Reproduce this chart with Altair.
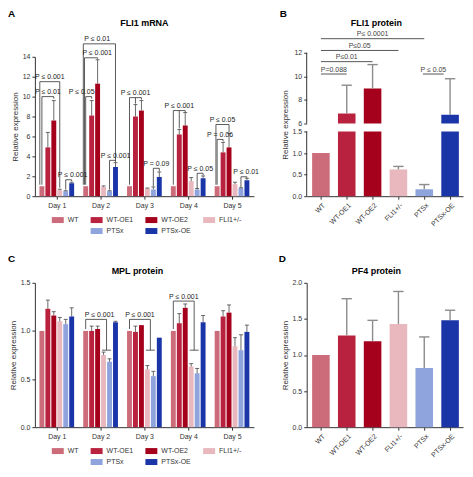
import json
import altair as alt
import pandas as pd

GROUPS = ["WT", "WT-OE1", "WT-OE2", "FLI1+/-", "PTSx", "PTSx-OE"]
COLORS = ["#cc6b7a", "#b8223e", "#a5001c", "#e8b8be", "#8fa3dc", "#1a35a8"]
DAYS = [1, 2, 3, 4, 5]

# Panel A: FLI1 mRNA, rows = groups, columns = days 1-5
MRNA_MEAN = [
    [1.0, 1.0, 1.0, 1.0, 1.0],
    [4.9, 8.1, 8.0, 6.2, 4.4],
    [7.6, 11.3, 8.6, 7.1, 4.9],
    [0.6, 0.93, 0.77, 1.5, 1.2],
    [0.5, 0.5, 0.67, 0.67, 0.8],
    [1.3, 2.93, 1.93, 1.8, 1.6],
]
MRNA_SD = [
    [0, 0, 0, 0, 0],
    [1.5, 1.5, 1.2, 0.5, 1.0],
    [2.0, 2.4, 1.0, 1.3, 1.4],
    [0.1, 0.1, 0.05, 0.37, 0.2],
    [0.05, 0.05, 0.26, 0.1, 0.05],
    [0.1, 0.44, 0.5, 0.23, 0.2],
]
# Panel C: MPL protein
MPL_MEAN = [
    [1.0, 1.0, 1.0, 1.0, 1.0],
    [1.23, 1.00, 0.99, 1.08, 1.15],
    [1.16, 1.02, 1.06, 1.24, 1.19],
    [1.10, 0.75, 0.60, 0.63, 0.84],
    [1.07, 0.68, 0.53, 0.56, 0.80],
    [1.15, 1.09, 0.93, 1.09, 0.99],
]
MPL_SD = [
    [0, 0, 0, 0, 0],
    [0.09, 0.05, 0.06, 0.10, 0.06],
    [0.04, 0.03, 0.0, 0.04, 0.08],
    [0.04, 0.03, 0.04, 0.03, 0.09],
    [0.05, 0.03, 0.05, 0.05, 0.16],
    [0.09, 0.01, 0.0, 0.07, 0.07],
]
# Panel B: FLI1 protein ; Panel D: PF4 protein
FLI1_PROT_MEAN = [1.0, 6.85, 8.97, 0.62, 0.16, 6.75]
FLI1_PROT_SD = [0, 2.4, 2.03, 0.07, 0.11, 3.05]
PF4_MEAN = [1.0, 1.27, 1.19, 1.43, 0.82, 1.48]
PF4_SD = [0, 0.51, 0.29, 0.45, 0.43, 0.14]

# Significance brackets: day, left group, right group, top, left foot, right foot, label, label shift
A_BRACKETS = [
    (1, 0, 2, 10.0, 1.15, 9.8, "P ≤ 0.01", 0),
    (1, -0.35, 3, 11.5, 1.15, 0.85, "P ≤ 0.001", 0),
    (1, 4, 5, 1.65, 0.65, 1.5, "P ≤ 0.001", 0.09),
    (2, 0, 1, 10.0, 1.15, 9.8, "P ≤ 0.05", -0.16),
    (2, -0.2, 2, 13.9, 1.15, 13.8, "P ≤ 0.001", 0.14),
    (2, -0.4, 5, 15.3, 1.15, 3.5, "P ≤ 0.01", -0.05),
    (2, 4, 5, 3.6, 0.65, 3.45, "P ≤ 0.001", 0.07),
    (3, 0, 2, 9.9, 1.15, 9.7, "P ≤ 0.001", 0),
    (3, 4, 5, 2.8, 1.0, 2.5, "P = 0.09", 0),
    (4, 0, 2, 8.6, 1.15, 8.45, "P ≤ 0.001", 0),
    (4, 4, 5, 2.3, 0.8, 2.1, "P ≤ 0.05", 0),
    (5, 0, 1, 5.7, 1.15, 5.5, "P = 0.06", 0),
    (5, -0.2, 2, 7.2, 1.15, 6.4, "P ≤ 0.05", 0),
    (5, 4, 5, 1.95, 0.9, 1.85, "P ≤ 0.01", 0.05),
]
A_EXTRA_LEGS = [(3, 1, 9.9, 9.3), (4, 1, 8.6, 6.8)]
C_BRACKETS = [
    (2, 0, 3.5, 1.12, 1.02, 0.80, "P ≤ 0.001", 0.08),
    (3, 0, 3.5, 1.12, 1.02, 0.80, "P ≤ 0.001", 0),
    (4, 0, 3.5, 1.31, 1.02, 0.80, "P ≤ 0.001", 0),
]
C_TBARS = [(2, 2.75, 4.25, 0.80), (3, 2.75, 4.25, 0.80), (4, 2.75, 4.25, 0.80)]
B_LINES = [
    (0, 1, 10.2, "P=0.088"),
    (0, 2, 11.25, "P≤0.01"),
    (0, 3, 12.2, "P≤0.05"),
    (0, 4, 13.2, "P≤ 0.0001"),
    (3.95, 4.75, 10.2, "P ≤ 0.05"),
]
B_AXIS_PIECES = [(0, 1.5), (6, 12)]

FONT = "Liberation Sans"
PITCH, HALF, CAP = 0.136, 0.056, 0.045
CHALF, CCAP = 0.34, 0.2
INK = "#333333"

LEG_DOMAIN = GROUPS[:4] + [" "] + GROUPS[4:]
LEG_RANGE = COLORS[:4] + ["transparent"] + COLORS[4:]


def gx(day, g):
    return day + (g - 2.5) * PITCH


def day_frame(mean, sd):
    rows = []
    for gi, g in enumerate(GROUPS):
        for di, d in enumerate(DAYS):
            x = gx(d, gi)
            rows.append({"group": g, "x": x, "xa": x - HALF, "xb": x + HALF, "base": 0,
                         "mean": mean[gi][di], "sd": sd[gi][di], "top": mean[gi][di] + sd[gi][di],
                         "ca": x - CAP, "cb": x + CAP})
    return pd.DataFrame(rows)


def bracket_frames(brackets, legs=(), tbars=()):
    segs, labs = [], []
    for d, gl, gr, top, fl, fr, lab, dx in brackets:
        xl, xr = gx(d, gl), gx(d, gr)
        segs += [{"x": xl, "x2": xl, "y": fl, "y2": top},
                 {"x": xl, "x2": xr, "y": top, "y2": top},
                 {"x": xr, "x2": xr, "y": top, "y2": fr}]
        labs.append({"lx": (xl + xr) / 2 + dx, "ly": top, "label": lab})
    for d, g, top, foot in legs:
        segs.append({"x": gx(d, g), "x2": gx(d, g), "y": top, "y2": foot})
    for d, ga, gb, y in tbars:
        segs.append({"x": gx(d, ga), "x2": gx(d, gb), "y": y, "y2": y})
    return pd.DataFrame(segs), pd.DataFrame(labs)


def text_layer(txt, x, y, size, align="center", baseline="middle"):
    return alt.Chart(pd.DataFrame({"t": [txt]})).mark_text(
        fontSize=size, fontWeight="bold", align=align, baseline=baseline, font=FONT, color="black"
    ).encode(x=alt.value(x), y=alt.value(y), text="t:N")


def legend(y):
    return alt.Legend(orient="none", legendX=17, legendY=y, direction="horizontal", columns=4,
                      title=None, symbolType="M-1,-0.5H1V0.5H-1Z", symbolSize=144,
                      symbolStrokeWidth=0, labelFontSize=7, labelFont=FONT, columnPadding=12,
                      rowPadding=2, labelOffset=4, labelColor=INK)


def y_axis(ticks, fmt=None, expr=None, domain=True):
    kw = dict(values=ticks, title="Relative expression", grid=False, tickSize=3, labelFontSize=7,
              titleFontSize=8, titleFontWeight="normal", titlePadding=3, labelPadding=2, domain=domain)
    if fmt:
        kw["format"] = fmt
    if expr:
        kw["labelExpr"] = expr
    return alt.Axis(**kw)


def day_panel(mean, sd, brackets, legs, tbars, ymax, ticks, fmt, height, title, tx, ty, letter, ly):
    df = day_frame(mean, sd)
    segs, labs = bracket_frames(brackets, legs, tbars)
    xs = alt.Scale(domain=[0.5, 5.5], nice=False, zero=False)
    xa = alt.Axis(values=DAYS, labelExpr="'Day ' + datum.value", title=None, grid=False,
                  tickSize=3, labelFontSize=7, labelPadding=2)
    ys = alt.Scale(domain=[0, ymax], nice=False, zero=False)
    ya = y_axis(ticks, fmt)
    X = lambda f: alt.X(f, type="quantitative", scale=xs, axis=xa)
    Y = lambda f: alt.Y(f, type="quantitative", scale=ys, axis=ya)
    bars = alt.Chart(df).mark_bar().encode(
        x=X("xa"), x2="xb", y=Y("mean"), y2="base",
        color=alt.Color("group:N", scale=alt.Scale(domain=LEG_DOMAIN, range=LEG_RANGE),
                        legend=legend(height + 18)))
    err_df = df[df["sd"] > 0]
    err = alt.Chart(err_df).mark_rule(color="#444444", strokeWidth=0.8).encode(
        x=X("x"), y=Y("mean"), y2="top")
    caps = alt.Chart(err_df).mark_rule(color="#444444", strokeWidth=0.8).encode(
        x=X("ca"), x2="cb", y=Y("top"))
    br = alt.Chart(segs).mark_rule(color=INK, strokeWidth=0.8).encode(
        x=X("x"), x2="x2", y=Y("y"), y2="y2")
    bl = alt.Chart(labs).mark_text(fontSize=7, baseline="bottom", dy=-1.5, font=FONT, color="#222222").encode(
        x=X("lx"), y=Y("ly"), text="label:N")
    return alt.layer(bars, err, caps, br, bl,
                     text_layer(title, tx, ty, 9),
                     text_layer(letter, -27, ly, 10, align="left", baseline="top")
                     ).properties(width=220, height=height)


def cat_enc():
    xs = alt.Scale(domain=[-0.55, 5.5], nice=False, zero=False)
    xa = alt.Axis(values=list(range(6)), labelExpr=json.dumps(GROUPS) + "[datum.value]",
                  labelAngle=315, title=None, grid=False, tickSize=3, labelFontSize=7, labelPadding=2)
    return lambda f: alt.X(f, type="quantitative", scale=xs, axis=xa)


def cat_frame(mean, sd):
    rows = []
    for gi, g in enumerate(GROUPS):
        rows.append({"group": g, "x": gi, "xa": gi - CHALF, "xb": gi + CHALF, "base": 0,
                     "mean": mean[gi], "sd": sd[gi], "top": mean[gi] + sd[gi],
                     "ca": gi - CCAP, "cb": gi + CCAP})
    return pd.DataFrame(rows)


def cat_layers(df, X, Y):
    bars = alt.Chart(df).mark_bar().encode(
        x=X("xa"), x2="xb", y=Y("mean"), y2="base",
        color=alt.Color("group:N", scale=alt.Scale(domain=LEG_DOMAIN, range=LEG_RANGE), legend=None))
    e = df[df["sd"] > 0]
    err = alt.Chart(e).mark_rule(color="#8c8c8c", strokeWidth=1.4).encode(x=X("x"), y=Y("mean"), y2="top")
    caps = alt.Chart(e).mark_rule(color="#8c8c8c", strokeWidth=1.4).encode(x=X("ca"), x2="cb", y=Y("top"))
    return bars, err, caps


# ---- Panel B (broken axis) ----
XB = cat_enc()
ysB = alt.Scale(domain=[0, 1.5, 6, 12], range=[140, 75, 67, -4], nice=False, zero=False)
yaB = y_axis([0, 0.5, 1, 1.5, 6, 8, 10, 12],
             expr="datum.value >= 6 ? format(datum.value, 'd') : format(datum.value, '.1f')",
             domain=False)
YB = lambda f: alt.Y(f, type="quantitative", scale=ysB, axis=yaB)
dfB = cat_frame(FLI1_PROT_MEAN, FLI1_PROT_SD)
barsB, errB, capsB = cat_layers(dfB, XB, YB)
gap = alt.Chart(pd.DataFrame({"xa": [-0.5], "xb": [5.5], "lo": [1.5], "hi": [6]})).mark_rect(
    color="white").encode(x=XB("xa"), x2="xb", y=YB("lo"), y2="hi")
axis_pieces = alt.Chart(pd.DataFrame({"x": [-0.55] * len(B_AXIS_PIECES),
                                      "lo": [p[0] for p in B_AXIS_PIECES],
                                      "hi": [p[1] for p in B_AXIS_PIECES]})).mark_rule(
    color=INK, strokeWidth=1).encode(x=XB("x"), y=YB("lo"), y2="hi")
bl_df = pd.DataFrame([{"x": a, "x2": b, "y": y, "label": t, "lx": (a + b) / 2} for a, b, y, t in B_LINES])
b_lines = alt.Chart(bl_df).mark_rule(color="#444444", strokeWidth=0.9).encode(x=XB("x"), x2="x2", y=YB("y"))
b_labels = alt.Chart(bl_df).mark_text(fontSize=7, baseline="bottom", dy=-1.5, font=FONT, color="#444444").encode(
    x=XB("lx"), y=YB("y"), text="label:N")
panelB = alt.layer(barsB, gap, errB, capsB, axis_pieces, b_lines, b_labels,
                   text_layer("FLI1 protein", 70, -34, 9),
                   text_layer("B", -27, -48, 10, align="left", baseline="top")
                   ).properties(width=157, height=140)

# ---- Panel D ----
XD = cat_enc()
ysD = alt.Scale(domain=[0, 2], nice=False, zero=False)
yaD = y_axis([0, 0.5, 1, 1.5, 2], fmt=".1f")
YD = lambda f: alt.Y(f, type="quantitative", scale=ysD, axis=yaD)
barsD, errD, capsD = cat_layers(cat_frame(PF4_MEAN, PF4_SD), XD, YD)
panelD = alt.layer(barsD, errD, capsD,
                   text_layer("PF4 protein", 70, -12, 9),
                   text_layer("D", -28, -29, 10, align="left", baseline="top")
                   ).properties(width=157, height=145)

panelA = day_panel(MRNA_MEAN, MRNA_SD, A_BRACKETS, A_EXTRA_LEGS, [], 14,
                   [0, 2, 4, 6, 8, 10, 12, 14], "d", 140, "FLI1 mRNA", 110, -34, "A", -48)
panelC = day_panel(MPL_MEAN, MPL_SD, C_BRACKETS, [], C_TBARS, 1.5,
                   [0, 0.5, 1, 1.5], ".1f", 145, "MPL protein", 103, -12, "C", -29)

chart = alt.concat(
    panelA, panelB, panelC, panelD,
    columns=2, spacing={"row": 87, "column": 53}, bounds="flush", align="each"
).resolve_scale(
    color="independent"
).properties(
    padding={"left": 0, "top": 0, "right": 2, "bottom": 2}, background="white"
).configure_view(stroke=None).configure_axis(
    labelFont=FONT, titleFont=FONT, labelColor=INK, titleColor=INK, domainColor=INK, tickColor=INK
).configure_text(font=FONT)

chart.save("out.html", embed_options={"renderer": "svg", "actions": False})
